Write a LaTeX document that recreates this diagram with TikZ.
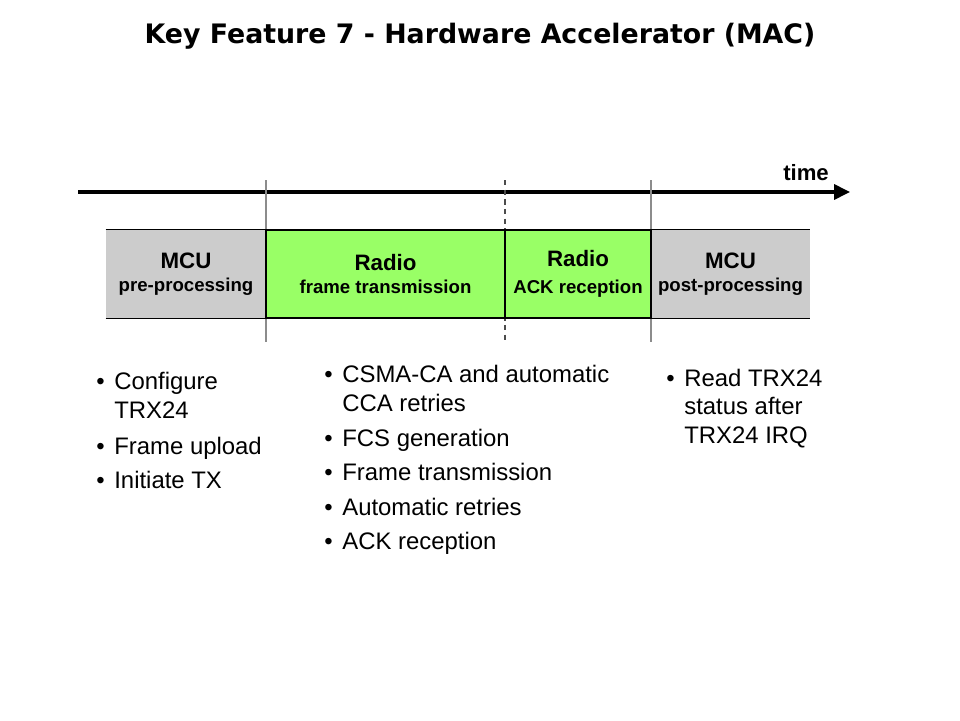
\documentclass[tikz,border=0pt]{standalone}
\usepackage{fontspec}
\setmainfont{Liberation Sans}
\newfontfamily\headfont{DejaVu Sans}
\usetikzlibrary{arrows.meta,positioning}

\definecolor{mcugray}{HTML}{CCCCCC}
\definecolor{radiogreen}{HTML}{99FF66}
\definecolor{divgray}{HTML}{8C8C8C}

\newcommand{\phasetitle}[3][1pt]{{\fontsize{12.7}{14}\selectfont #2}\\[#1]{\fontsize{10.6}{12}\selectfont #3}}
\newcommand{\dotitem}{\llap{\textbullet\hspace{5.5pt}}}

\begin{document}
\begin{tikzpicture}[x=0.02cm,y=-0.02cm]
    % `phase' is used for the boxes on the time line.
    % `divider' marks where one phase ends and the next starts.
    % `listitem' is used for the bullet texts below (anchored at the last line).
    \tikzset{
      phase/.style={minimum height=1.76cm,inner sep=0pt,align=center,font=\bfseries},
      mcuphase/.style={phase,fill=mcugray},
      radiophase/.style={phase,fill=radiogreen,draw=black,line width=1pt},
      divider/.style={divgray,line width=0.9pt},
      listitem/.style={anchor=base west,align=left,inner sep=0pt,
        font=\fontsize{13.6}{16.2}\selectfont}
    }
    \useasboundingbox (0,0) rectangle (960,720);
    %
    \node[anchor=base,font=\headfont\bfseries\fontsize{15.25}{18}\selectfont] (title)
      at (480,43) {Key Feature 7 - Hardware Accelerator (MAC)};
    %
    % time axis
    \coordinate (tstart) at (78,192);
    \coordinate (tend) at (850,192);
    \draw[line width=1.9pt,-{Triangle[length=9pt,width=8.5pt]}] (tstart) -- (tend);
    \node[anchor=base east,font=\fontsize{12.6}{14}\selectfont\bfseries] (time) at (835,180) {time};
    %
    % phase borders
    \coordinate (d1t) at (266,180); \coordinate (d1b) at (266,342);
    \coordinate (d2t) at (505,180); \coordinate (d2b) at (505,342);
    \coordinate (d3t) at (651,180); \coordinate (d3b) at (651,342);
    \draw[divider] (d1t) -- (d1b)  (d3t) -- (d3b);
    \draw[divider,black!70,dash pattern=on 3pt off 2.5pt] (d2t) -- (d2b);
    %
    \node[mcuphase,minimum width=3.2cm] (pre) at (186,274) {\phasetitle{MCU}{pre-processing}};
    \node[mcuphase,minimum width=3.18cm] (post) at (730.5,274) {\phasetitle{MCU}{post-processing}};
    \draw[line width=0.6pt] (pre.north west) -- (pre.north east)  (pre.south west) -- (pre.south east);
    \draw[line width=0.6pt] (post.north west) -- (post.north east)  (post.south west) -- (post.south east);
    \node[radiophase,minimum width=4.78cm] (frame) at (385.5,274) {\phasetitle{Radio}{frame transmission}};
    \node[radiophase,minimum width=2.92cm] (ack) at (578,274) {\phasetitle[3.5pt]{Radio}{ACK reception}};
    %
    % what runs in each phase
    \node[listitem] (cfg) at (114,418) {\dotitem Configure\\TRX24};
    \node[listitem] (upl) at (114,454) {\dotitem Frame upload};
    \node[listitem] (ini) at (114,488) {\dotitem Initiate TX};
    %
    \node[listitem] (csma) at (342,411) {\dotitem CSMA-CA and automatic\\CCA retries};
    \node[listitem] (fcs) at (342,446) {\dotitem FCS generation};
    \node[listitem] (ftx) at (342,480) {\dotitem Frame transmission};
    \node[listitem] (retr) at (342,515) {\dotitem Automatic retries};
    \node[listitem] (ackr) at (342,549) {\dotitem ACK reception};
    %
    \node[listitem] (rd) at (684,443) {\dotitem Read TRX24\\status after\\TRX24 IRQ};
\end{tikzpicture}
\end{document}
